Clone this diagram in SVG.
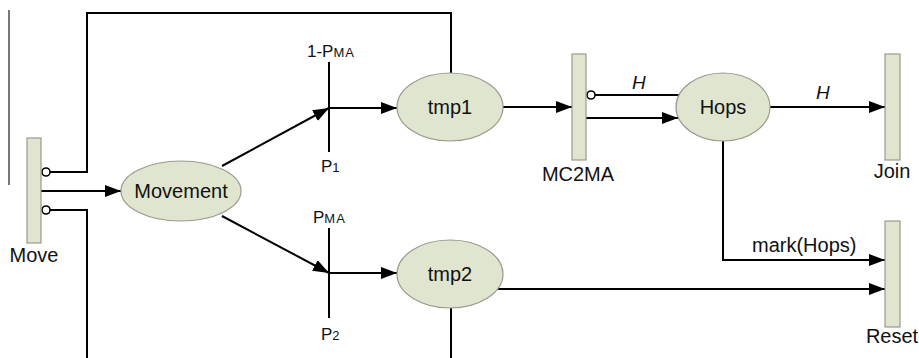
<svg xmlns="http://www.w3.org/2000/svg" width="919" height="358" viewBox="0 0 919 358">
<style>
.place{fill:#dfe5cf;stroke:#9a9a8e;stroke-width:1.2}
.trans{fill:#dfe5cf;stroke:#9a9a8e;stroke-width:1.2}
.arc{fill:none;stroke:#000;stroke-width:2}
.arr{marker-end:url(#ah)}
.inh{fill:#fff;stroke:#000;stroke-width:1.6}
text{font-family:"Liberation Sans",Arial,sans-serif;font-size:20px;fill:#111}
.lbl{text-anchor:middle}
.prob{font-size:17px}
.sub{font-size:13px;letter-spacing:1px}
.it{font-style:italic;font-size:19px}
</style>
<defs>
<marker id="ah" markerUnits="userSpaceOnUse" markerWidth="18" markerHeight="13" refX="16" refY="6" orient="auto">
<path d="M0,0 L16,6 L0,12 z" fill="#000"/>
</marker>
</defs>
<line x1="9" y1="10" x2="9" y2="185" stroke="#777" stroke-width="2"/>
<g id="connectors">
<polyline class="arc" points="50,172 87,172 87,13 451,13 451,73"/>
<polyline class="arc" points="50,210 87,210 87,358"/>
<line class="arc" x1="451" y1="308" x2="451" y2="358"/>
<line class="arc arr" x1="41" y1="191" x2="121" y2="191"/>
<line class="arc arr" x1="222" y1="166" x2="329" y2="108"/>
<line class="arc arr" x1="222" y1="216" x2="329" y2="273"/>
<line class="arc" x1="329" y1="62" x2="329" y2="152"/>
<line class="arc" x1="329" y1="228" x2="329" y2="318"/>
<line class="arc arr" x1="329" y1="108" x2="397" y2="108"/>
<line class="arc arr" x1="329" y1="273" x2="397" y2="273"/>
<line class="arc arr" x1="503" y1="107" x2="572" y2="107"/>
<line class="arc" x1="595" y1="95" x2="679" y2="95"/>
<line class="arc arr" x1="586" y1="118" x2="678" y2="118"/>
<line class="arc arr" x1="770" y1="107" x2="885" y2="107"/>
<polyline class="arc arr" points="723,141 723,260 885,260"/>
<line class="arc arr" x1="498" y1="289" x2="885" y2="289"/>
<circle class="inh" cx="46" cy="172" r="4"/>
<circle class="inh" cx="46" cy="210" r="4"/>
<circle class="inh" cx="591" cy="95" r="4"/>
<text class="it" x="632" y="89">H</text>
<text class="it" x="816" y="99">H</text>
<text x="752" y="252">mark(Hops)</text>
<text class="prob" x="307" y="57">1-P<tspan class="sub">MA</tspan></text>
<text class="prob" x="321" y="172">P<tspan class="sub">1</tspan></text>
<text class="prob" x="313" y="223">P<tspan class="sub">MA</tspan></text>
<text class="prob" x="321" y="340">P<tspan class="sub">2</tspan></text>
</g>
<g id="Move">
<rect class="trans" x="27" y="138" width="14" height="105"/>
<text class="lbl" x="34" y="262">Move</text>
</g>
<g id="Movement">
<ellipse class="place" cx="181" cy="191" rx="60" ry="30"/>
<text class="lbl" x="181" y="198">Movement</text>
</g>
<g id="tmp1">
<ellipse class="place" cx="450" cy="107" rx="53" ry="34"/>
<text class="lbl" x="450" y="114">tmp1</text>
</g>
<g id="tmp2">
<ellipse class="place" cx="450" cy="274" rx="53" ry="34"/>
<text class="lbl" x="450" y="281">tmp2</text>
</g>
<g id="MC2MA">
<rect class="trans" x="572" y="54" width="14" height="106"/>
<text class="lbl" x="578" y="181">MC2MA</text>
</g>
<g id="Hops">
<ellipse class="place" cx="723" cy="107" rx="47" ry="34"/>
<text class="lbl" x="723" y="114">Hops</text>
</g>
<g id="Join">
<rect class="trans" x="885" y="54" width="15" height="106"/>
<text class="lbl" x="892" y="178">Join</text>
</g>
<g id="Reset">
<rect class="trans" x="885" y="221" width="15" height="106"/>
<text class="lbl" x="892" y="343">Reset</text>
</g>
</svg>
